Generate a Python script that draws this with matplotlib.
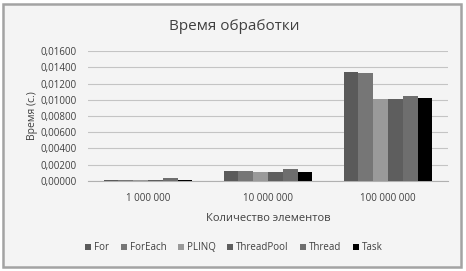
import numpy as np
import matplotlib.pyplot as plt
from matplotlib.patches import Rectangle
from matplotlib.ticker import FuncFormatter

plt.rcParams['font.family'] = ['Open Sans', 'DejaVu Sans']

# data
categories = ['1 000 000', '10 000 000', '100 000 000']
series = ['For', 'ForEach', 'PLINQ', 'ThreadPool', 'Thread', 'Task']
t_for = [0.00005, 0.00123, 0.01346]
t_foreach = [0.00003, 0.00121, 0.01326]
t_plinq = [0.00003, 0.00110, 0.01012]
t_threadpool = [0.00005, 0.00102, 0.01012]
t_thread = [0.00028, 0.00144, 0.01046]
t_task = [0.00005, 0.00106, 0.01017]
values = [t_for, t_foreach, t_plinq, t_threadpool, t_thread, t_task]
colors = ['#5a5a5a', '#767676', '#9a9a9a', '#5e5e5e', '#6e6e6e', '#000000']

W, H = 466, 271
fig = plt.figure(figsize=(W / 100, H / 100), dpi=100)
fig.patch.set_facecolor('white')

# chart frame
fig.patches.append(Rectangle((3 / W, 4 / H), 458 / W, 263 / H, transform=fig.transFigure,
                             facecolor='#f4f4f4', edgecolor='#a3a3a3', linewidth=1.8, zorder=-10))

ax = fig.add_axes([88 / W, 1 - 180.7 / H, 360 / W, 129.4 / H])
ax.set_facecolor('none')

x = np.arange(len(categories))
bw = 0.123
for i, (name, vals) in enumerate(zip(series, values)):
    ax.bar(x + (i - 2.5) * bw, vals, width=bw, color=colors[i], label=name, zorder=3)

ax.set_xlim(-0.5, 2.5)
ax.set_ylim(0, 0.016)
ax.set_yticks(np.arange(0, 0.0161, 0.002))
ax.yaxis.set_major_formatter(FuncFormatter(lambda v, p: f'{v:.5f}'.replace('.', ',')))
ax.set_xticks(x)
ax.set_xticklabels(categories)
ax.grid(axis='y', color='#c4c4c4', linewidth=0.8, zorder=0)
for s in ['top', 'right', 'left']:
    ax.spines[s].set_visible(False)
ax.spines['bottom'].set_color('#b0b0b0')
ax.tick_params(axis='both', length=0, labelsize=7, colors='#404040')
ax.tick_params(axis='y', pad=8)
ax.tick_params(axis='x', pad=9)

ax.set_ylabel('Время (с.)', fontsize=7.5, color='#404040', labelpad=2)
ax.set_xlabel('Количество элементов', fontsize=8, color='#404040', labelpad=6)
fig.text(234 / W, 1 - 27 / H, 'Время обработки', ha='center', va='center',
         fontsize=11, color='#404040')

fig.legend(loc='center', bbox_to_anchor=(234 / W, 1 - 248 / H), ncol=6, frameon=False,
           fontsize=7, handlelength=0.6, handleheight=0.6, handletextpad=0.3,
           columnspacing=1.2, labelcolor='#404040')

fig.savefig('out.png', dpi=100)
